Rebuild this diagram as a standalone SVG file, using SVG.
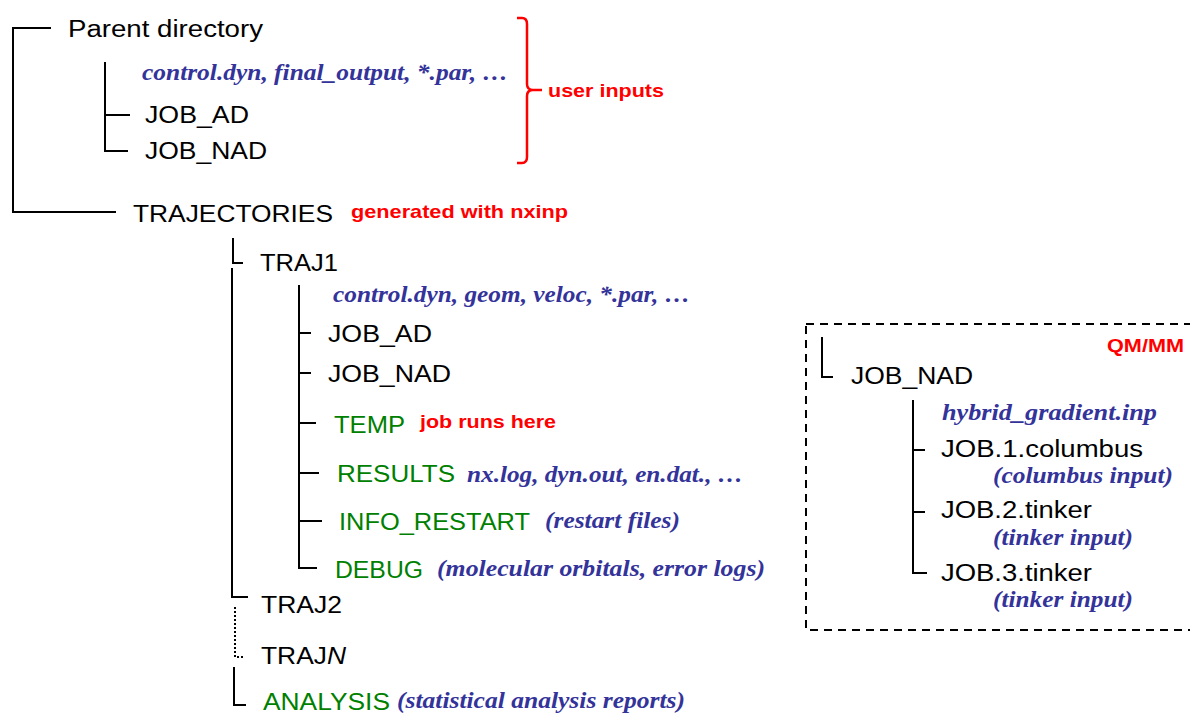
<svg xmlns="http://www.w3.org/2000/svg" width="1190" height="715" viewBox="0 0 1190 715">
<style>
.k{font-family:"Liberation Sans",Arial,sans-serif;fill:#000;font-size:23px}
.g{font-family:"Liberation Sans",Arial,sans-serif;fill:#008000;font-size:23px}
.r{font-family:"Liberation Sans",Arial,sans-serif;fill:#ff0000;font-weight:bold;font-size:19px}
.b{font-family:"Liberation Serif","Times New Roman",serif;fill:#33339a;font-style:italic;font-weight:bold;font-size:23px}
.ln{fill:none;stroke:#000;stroke-width:2}
</style>
<rect width="1190" height="715" fill="#fff"/>
<g id="connectors">
<path class="ln" d="M51,28 H13 V212 H116"/>
<path class="ln" d="M105,62 V151 H128 M105,115 H130"/>
<path class="ln" d="M233,238 V263 H243"/>
<path class="ln" d="M232,268 V597 H248"/>
<path class="ln" d="M299,285 V568 H317 M299,333 H311 M299,373 H311 M299,423 H316 M299,473 H319 M299,521 H322"/>
<path class="ln" d="M235,607 V657 H243" stroke-dasharray="2,2"/>
<path class="ln" d="M234,667 V705 H246"/>
<path class="ln" d="M822,337 V377 H833"/>
<path class="ln" d="M913,400 V573 H927 M913,450 H925 M913,512 H925"/>
<path fill="none" stroke="#ff0000" stroke-width="2.5" d="M517,18 H522 Q527,18 527,24 V84 Q527,90 533,90 H542 M533,90 Q527,90 527,96 V157 Q527,163 522,163 H517"/>
<rect x="806" y="324" width="420" height="306" fill="none" stroke="#000" stroke-width="2" stroke-dasharray="8,6"/>
</g>
<g id="parent"><text class="k" x="68" y="37" font-size="24" textLength="195" lengthAdjust="spacingAndGlyphs">Parent directory</text></g>
<g id="parent-files"><text class="b" x="142" y="80" textLength="366" lengthAdjust="spacingAndGlyphs">control.dyn, final_output, *.par, …</text></g>
<g id="parent-jobad"><text class="k" x="145" y="123" textLength="104" lengthAdjust="spacingAndGlyphs">JOB_AD</text></g>
<g id="parent-jobnad"><text class="k" x="145" y="159" textLength="122" lengthAdjust="spacingAndGlyphs">JOB_NAD</text></g>
<g id="user-inputs"><text class="r" x="548" y="97" textLength="116" lengthAdjust="spacingAndGlyphs">user inputs</text></g>
<g id="trajectories"><text class="k" x="133" y="222" textLength="200" lengthAdjust="spacingAndGlyphs">TRAJECTORIES</text>
<text class="r" x="351" y="218" textLength="217" lengthAdjust="spacingAndGlyphs">generated with nxinp</text></g>
<g id="traj1"><text class="k" x="260" y="271" textLength="78" lengthAdjust="spacingAndGlyphs">TRAJ1</text></g>
<g id="traj1-files"><text class="b" x="333" y="302" textLength="357" lengthAdjust="spacingAndGlyphs">control.dyn, geom, veloc,  *.par, …</text></g>
<g id="traj1-jobad"><text class="k" x="328" y="342" textLength="104" lengthAdjust="spacingAndGlyphs">JOB_AD</text></g>
<g id="traj1-jobnad"><text class="k" x="328" y="382" textLength="123" lengthAdjust="spacingAndGlyphs">JOB_NAD</text></g>
<g id="temp"><text class="g" x="334" y="433" textLength="71" lengthAdjust="spacingAndGlyphs">TEMP</text>
<text class="r" x="420" y="428" textLength="136" lengthAdjust="spacingAndGlyphs">job runs here</text></g>
<g id="results"><text class="g" x="337" y="482" textLength="118" lengthAdjust="spacingAndGlyphs">RESULTS</text>
<text class="b" x="467" y="482" textLength="276" lengthAdjust="spacingAndGlyphs">nx.log, dyn.out, en.dat., …</text></g>
<g id="info-restart"><text class="g" x="339" y="530" textLength="191" lengthAdjust="spacingAndGlyphs">INFO_RESTART</text>
<text class="b" x="545" y="528" textLength="135" lengthAdjust="spacingAndGlyphs">(restart files)</text></g>
<g id="debug"><text class="g" x="335" y="578" textLength="88" lengthAdjust="spacingAndGlyphs">DEBUG</text>
<text class="b" x="437" y="576" textLength="328" lengthAdjust="spacingAndGlyphs">(molecular orbitals, error logs)</text></g>
<g id="traj2"><text class="k" x="261" y="613" textLength="81" lengthAdjust="spacingAndGlyphs">TRAJ2</text></g>
<g id="trajn"><text class="k" x="261" y="664" textLength="85" lengthAdjust="spacingAndGlyphs">TRAJ<tspan font-style="italic">N</tspan></text></g>
<g id="analysis"><text class="g" x="263" y="710" textLength="127" lengthAdjust="spacingAndGlyphs">ANALYSIS</text>
<text class="b" x="397" y="708" textLength="288" lengthAdjust="spacingAndGlyphs">(statistical analysis reports)</text></g>
<g id="qmmm-box">
<text class="r" x="1107" y="352" textLength="77" lengthAdjust="spacingAndGlyphs">QM/MM</text>
</g>
<g id="qm-jobnad"><text class="k" x="851" y="384" textLength="122" lengthAdjust="spacingAndGlyphs">JOB_NAD</text></g>
<g id="hybrid"><text class="b" x="942" y="420" textLength="215" lengthAdjust="spacingAndGlyphs">hybrid_gradient.inp</text></g>
<g id="job1"><text class="k" x="941" y="457" textLength="202" lengthAdjust="spacingAndGlyphs">JOB.1.columbus</text>
<text class="b" x="993" y="483" textLength="180" lengthAdjust="spacingAndGlyphs">(columbus input)</text></g>
<g id="job2"><text class="k" x="941" y="518" textLength="151" lengthAdjust="spacingAndGlyphs">JOB.2.tinker</text>
<text class="b" x="993" y="545" textLength="140" lengthAdjust="spacingAndGlyphs">(tinker input)</text></g>
<g id="job3"><text class="k" x="941" y="581" textLength="151" lengthAdjust="spacingAndGlyphs">JOB.3.tinker</text>
<text class="b" x="993" y="607" textLength="140" lengthAdjust="spacingAndGlyphs">(tinker input)</text></g>
</svg>
